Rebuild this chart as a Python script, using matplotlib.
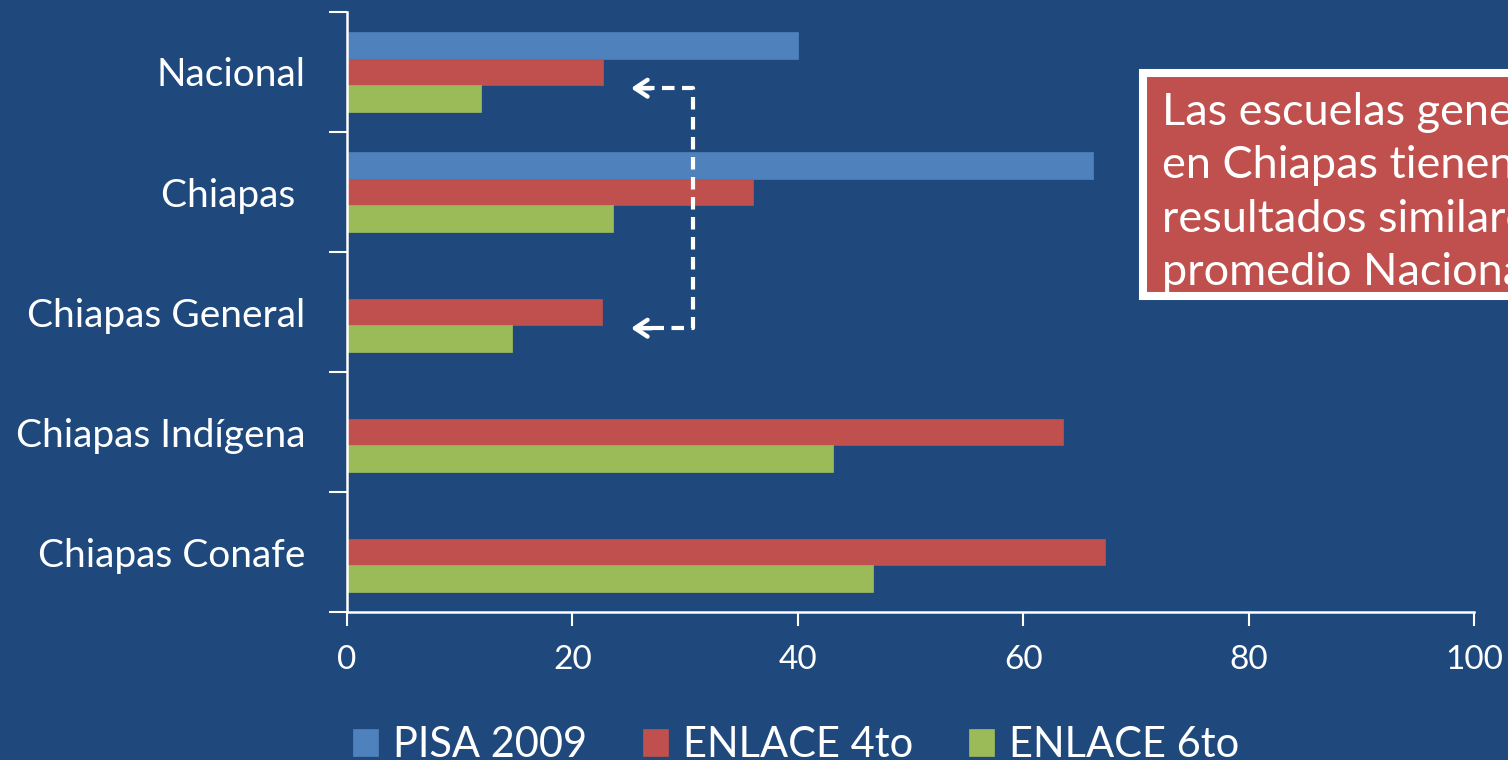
import numpy as np
import matplotlib.pyplot as plt
from matplotlib.patches import Rectangle

plt.rcParams['font.family'] = ['Lato', 'DejaVu Sans']

categories = ["Nacional", "Chiapas ", "Chiapas General", "Chiapas Indígena", "Chiapas Conafe"]
series = ["PISA 2009", "ENLACE 4to", "ENLACE 6to"]
pisa = [40.0, 66.2, np.nan, np.nan, np.nan]
enlace4 = [22.7, 36.0, 22.6, 63.5, 67.3]
enlace6 = [11.9, 23.6, 14.6, 43.1, 46.7]
xticks = [0, 20, 40, 60, 80, 100]
note_lines = ["Las escuelas generales", "en Chiapas tienen",
              "resultados similares al", "promedio Nacional"]

bg = "#1F497D"
colors = ["#4F81BD", "#C0504D", "#9BBB59"]

fig = plt.figure(figsize=(15.08, 7.6), dpi=100, facecolor=bg)
ax = fig.add_axes([347 / 1508, 148 / 760, 1127 / 1508, 600 / 760])
ax.set_facecolor(bg)

y = np.arange(len(categories))
h = 0.222
for vals, off, col, lab in zip([pisa, enlace4, enlace6], [-h, 0, h], colors, series):
    ax.barh(y + off, vals, height=h, color=col, label=lab, edgecolor=col, lw=0.5)

ax.set_xlim(0, 100)
ax.set_ylim(len(categories) - 0.5, -0.5)
ax.set_xticks(xticks)
ax.set_yticks(np.arange(len(categories) + 1) - 0.5)
ax.set_yticklabels([])
ax.set_yticks(y, minor=True)
ax.set_yticklabels(categories, minor=True)
ax.tick_params(axis="y", which="major", length=13, width=1.5, color="white")
ax.tick_params(axis="y", which="minor", length=0, pad=30, labelsize=28, labelcolor="white")
ax.tick_params(axis="x", length=10, width=1.5, color="white", pad=14,
               labelsize=24, labelcolor="white")
for s in ["top", "right"]:
    ax.spines[s].set_visible(False)
for s in ["left", "bottom"]:
    ax.spines[s].set_color("white")
    ax.spines[s].set_linewidth(1.8)

# dashed connector with arrowheads
x_tip, x_v = 25.2, 30.7
y1, y2 = 0 + 0.135, 2 + 0.135
ax.plot([x_tip + 1.0, x_v, x_v, x_tip + 1.0], [y1, y1, y2, y2], color="white",
        lw=3, ls=(0, (3, 1.8)), solid_capstyle="butt")
for yy in (y1, y2):
    ax.annotate("", xy=(x_tip, yy), xytext=(x_tip + 1.8, yy),
                arrowprops=dict(arrowstyle="->,head_length=0.9,head_width=0.6",
                                color="white", lw=3.2, shrinkA=0, shrinkB=0))

# note box (extends past the right edge)
fig.patches.append(Rectangle((1143 / 1508, (760 - 296) / 760), 420 / 1508, 223 / 760,
                             transform=fig.transFigure, facecolor="#C0504D",
                             edgecolor="white", lw=5.8))
for i, line in enumerate(note_lines):
    fig.text(1162 / 1508, (760 - 125 - 53.3 * i) / 760, line, color="white",
             fontsize=32.5, va="baseline", ha="left")

leg = fig.legend(loc="center", bbox_to_anchor=(796 / 1508, 15 / 760), ncol=3,
                 frameon=False, fontsize=30, handlelength=0.6, handleheight=0.6,
                 handletextpad=0.36, columnspacing=1.34, labelcolor="white")

fig.savefig("out.png", dpi=100, facecolor=bg)
